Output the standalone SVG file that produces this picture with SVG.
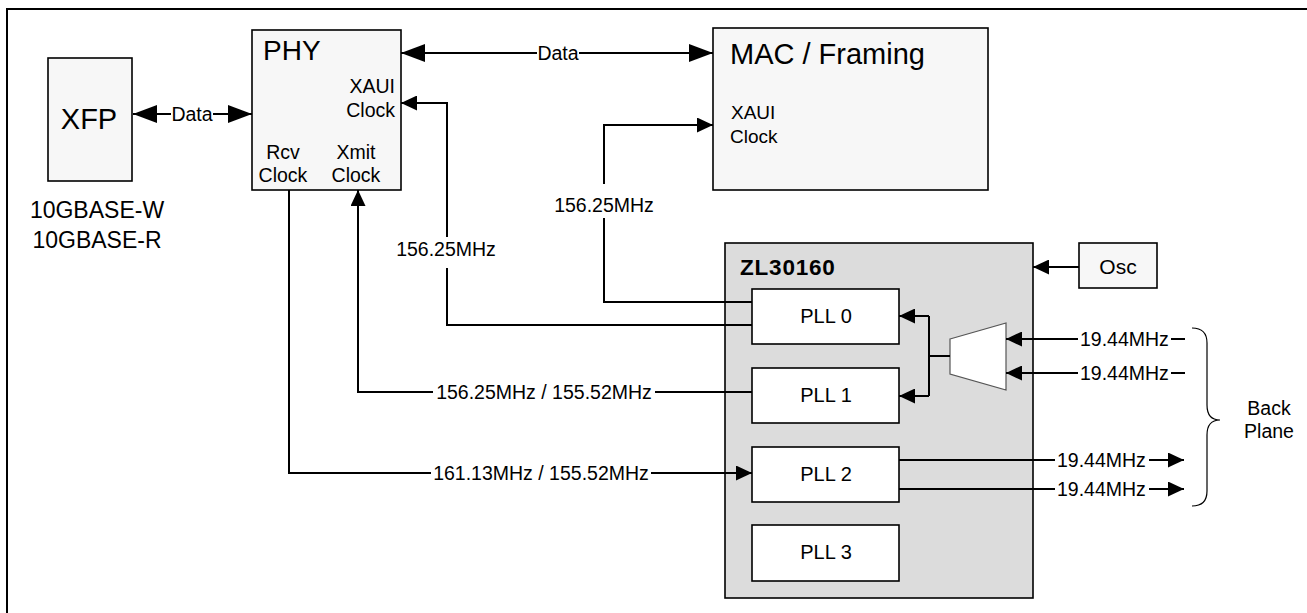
<svg xmlns="http://www.w3.org/2000/svg" width="1307" height="613" viewBox="0 0 1307 613">
<style>
text{font-family:"Liberation Sans",Arial,sans-serif;fill:#000}
.box{fill:#f7f7f7;stroke:#000;stroke-width:1.6}
.pll{fill:#fff;stroke:#000;stroke-width:1.6}
.ln{fill:none;stroke:#000;stroke-width:2}
.lbl{font-size:19.5px}
.mid{text-anchor:middle}
</style>
<defs>
<marker id="ah" markerUnits="userSpaceOnUse" markerWidth="17" markerHeight="15" refX="16" refY="7.5" orient="auto-start-reverse"><path d="M0,0 L16,7.5 L0,15 z" fill="#000"/></marker>
<marker id="dh" markerUnits="userSpaceOnUse" markerWidth="25" markerHeight="18" refX="24" refY="9" orient="auto-start-reverse"><path d="M0,0 L24,9 L0,18 z" fill="#000"/></marker>
</defs>
<rect x="7" y="9" width="1320" height="620" fill="#fff" stroke="#000" stroke-width="2"/>

<g id="xfp">
<rect class="box" x="48" y="58" width="84" height="123"/>
<text x="89" y="129" class="mid" font-size="29">XFP</text>
<text x="97" y="218" class="mid" font-size="23">10GBASE-W</text>
<text x="97" y="248" class="mid" font-size="23">10GBASE-R</text>
</g>

<g id="phy">
<rect class="box" x="252" y="30" width="149" height="160"/>
<text x="263" y="60" font-size="28">PHY</text>
<text x="395" y="93" text-anchor="end" font-size="19.5">XAUI</text>
<text x="395" y="117" text-anchor="end" font-size="19.5">Clock</text>
<text x="283" y="159" class="mid" font-size="19.5">Rcv</text>
<text x="283" y="182" class="mid" font-size="19.5">Clock</text>
<text x="356" y="159" class="mid" font-size="19.5">Xmit</text>
<text x="356" y="182" class="mid" font-size="19.5">Clock</text>
</g>

<g id="mac">
<rect class="box" x="713" y="28" width="275" height="162"/>
<text x="730" y="64" font-size="29">MAC / Framing</text>
<text x="731" y="119" font-size="19">XAUI</text>
<text x="730" y="143" font-size="19">Clock</text>
</g>

<g id="zl30160">
<rect x="725" y="243" width="308" height="355" fill="#dcdcdc" stroke="#000" stroke-width="1.6"/>
<text x="740" y="275" font-size="22.5" font-weight="bold" letter-spacing="0.8">ZL30160</text>
</g>

<g id="osc">
<rect class="box" x="1079" y="243" width="78" height="45"/>
<text x="1118" y="274" class="mid" font-size="21">Osc</text>
</g>

<g id="pll0"><rect class="pll" x="752" y="289" width="147" height="55"/><text x="826" y="323" class="mid" font-size="20">PLL 0</text></g>
<g id="pll1"><rect class="pll" x="752" y="368" width="147" height="55"/><text x="826" y="402" class="mid" font-size="20">PLL 1</text></g>
<g id="pll2"><rect class="pll" x="752" y="447" width="147" height="55"/><text x="826" y="481" class="mid" font-size="20">PLL 2</text></g>
<g id="pll3"><rect class="pll" x="752" y="525" width="147" height="56"/><text x="826" y="559" class="mid" font-size="20">PLL 3</text></g>

<g id="mux">
<polygon points="950,339 1006,323 1006,390 950,374" fill="#fff" stroke="#555" stroke-width="1.2"/>
</g>

<g id="backplane">
<path d="M1192,328 Q1207,328 1207,343 L1207,405 Q1207,420 1220,420 Q1207,420 1207,435 L1207,491 Q1207,506 1192,506" fill="none" stroke="#000" stroke-width="1.2"/>
<text x="1269" y="415" class="mid" font-size="19.5">Back</text>
<text x="1269" y="438" class="mid" font-size="19.5">Plane</text>
</g>

<g id="connectors">
<line class="ln" x1="133" y1="114" x2="171" y2="114" marker-start="url(#dh)"/>
<line class="ln" x1="213" y1="114" x2="252" y2="114" marker-end="url(#dh)"/>
<text x="192" y="121" class="mid lbl">Data</text>
<line class="ln" x1="401" y1="53" x2="537" y2="53" marker-start="url(#dh)"/>
<line class="ln" x1="579" y1="53" x2="713" y2="53" marker-end="url(#dh)"/>
<text x="558" y="60" class="mid lbl">Data</text>
<polyline class="ln" points="752,302 604,302 604,218"/>
<polyline class="ln" points="604,184 604,125 713,125" marker-end="url(#ah)"/>
<text x="604" y="212" class="mid lbl">156.25MHz</text>
<polyline class="ln" points="752,325 447,325 447,268"/>
<polyline class="ln" points="447,237 447,103 401,103" marker-end="url(#ah)"/>
<text x="446" y="256" class="mid lbl">156.25MHz</text>
<line class="ln" x1="752" y1="392" x2="655" y2="392"/>
<polyline class="ln" points="433,392 358,392 358,190" marker-end="url(#ah)"/>
<text x="544" y="399" class="mid lbl">156.25MHz / 155.52MHz</text>
<polyline class="ln" points="431,473 289,473 289,190"/>
<line class="ln" x1="651" y1="473" x2="752" y2="473" marker-end="url(#ah)"/>
<text x="541" y="480" class="mid lbl">161.13MHz / 155.52MHz</text>
<line class="ln" x1="1079" y1="267" x2="1033" y2="267" marker-end="url(#ah)"/>
<line class="ln" x1="950" y1="356" x2="929" y2="356"/>
<polyline class="ln" points="929,316 929,396"/>
<line class="ln" x1="929" y1="316" x2="899" y2="316" marker-end="url(#ah)"/>
<line class="ln" x1="929" y1="396" x2="899" y2="396" marker-end="url(#ah)"/>
<line class="ln" x1="1078" y1="339" x2="1006" y2="339" marker-end="url(#ah)"/>
<line class="ln" x1="1171" y1="339" x2="1185" y2="339"/>
<text x="1080" y="346" class="lbl">19.44MHz</text>
<line class="ln" x1="1078" y1="373" x2="1006" y2="373" marker-end="url(#ah)"/>
<line class="ln" x1="1171" y1="373" x2="1185" y2="373"/>
<text x="1080" y="380" class="lbl">19.44MHz</text>
<line class="ln" x1="899" y1="460" x2="1055" y2="460"/>
<line class="ln" x1="1149" y1="460" x2="1184" y2="460" marker-end="url(#ah)"/>
<text x="1057" y="467" class="lbl">19.44MHz</text>
<line class="ln" x1="899" y1="489" x2="1055" y2="489"/>
<line class="ln" x1="1149" y1="489" x2="1184" y2="489" marker-end="url(#ah)"/>
<text x="1057" y="496" class="lbl">19.44MHz</text>
</g>
</svg>
